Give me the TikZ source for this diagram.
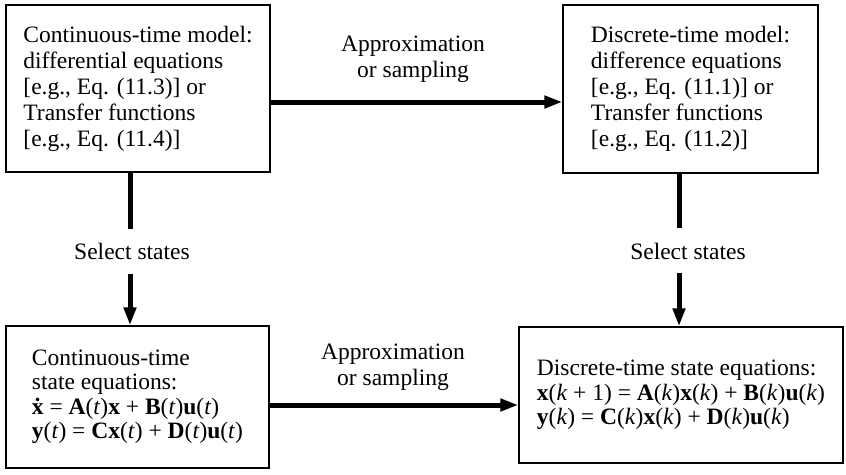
\documentclass[tikz,border=0pt]{standalone}
\usepackage{fontspec}
\setmainfont{Liberation Serif}
\usetikzlibrary{arrows.meta}
\begin{document}
\begin{tikzpicture}[x=1pt,y=-1pt,
  box/.style={draw,line width=1.3pt,align=left,inner sep=0pt,font=\fontsize{23.5}{26}\selectfont},
  lbl/.style={align=center,inner sep=0pt,font=\fontsize{23.5}{26}\selectfont},
  conn/.style={line width=5pt},
  arr/.style={line width=5pt,-{Triangle[length=18pt,width=12pt]}}]
\useasboundingbox (0,0) rectangle (846,474);
\node[box,minimum width=264pt,minimum height=167pt] (b1) at (138,88.5)
  {Continuous-time model:\\differential equations\\{[e.g., Eq. (11.3)] or}\\Transfer functions\\{[e.g., Eq. (11.4)]}};
\node[box,minimum width=255pt,minimum height=168pt] (b2) at (690.5,89)
  {Discrete-time model:\\difference equations\\{[e.g., Eq. (11.1)] or}\\Transfer functions\\{[e.g., Eq. (11.2)]}};
\node[box,minimum width=263pt,minimum height=142pt,font=\fontsize{23.5}{24.5}\selectfont] (b3) at (137.5,397)
  {Continuous-time\\state equations:\\\textbf{ẋ} = \textbf{A}(\textit{t})\textbf{x} + \textbf{B}(\textit{t})\textbf{u}(\textit{t})\\\textbf{y}(\textit{t}) = \textbf{Cx}(\textit{t}) + \textbf{D}(\textit{t})\textbf{u}(\textit{t})};
\node[box,minimum width=324pt,minimum height=136pt,font=\fontsize{23.5}{24.5}\selectfont] (b4) at (681,395)
  {Discrete-time state equations:\\\textbf{x}(\textit{k} + 1) = \textbf{A}(\textit{k})\textbf{x}(\textit{k}) + \textbf{B}(\textit{k})\textbf{u}(\textit{k})\\\textbf{y}(\textit{k}) = \textbf{C}(\textit{k})\textbf{x}(\textit{k}) + \textbf{D}(\textit{k})\textbf{u}(\textit{k})};
% top horizontal
\coordinate (h1) at (0,102);
\node[lbl] (l1) at (413,59) {Approximation\\or sampling};
\draw[arr] (b1.east |- h1) -- (b2.west |- h1);
% bottom horizontal
\coordinate (h2) at (0,405);
\node[lbl] (l2) at (393,367) {Approximation\\or sampling};
\draw[arr] (b3.east |- h2) -- (b4.west |- h2);
% left vertical
\coordinate (v1a) at (130,229);
\coordinate (v1b) at (130,274);
\node[lbl] (s1) at (132,251) {Select states};
\draw[conn] (b1.south -| v1a) -- (v1a);
\draw[arr] (v1b) -- (b3.north -| v1b);
% right vertical
\coordinate (v2a) at (679,228);
\coordinate (v2b) at (679,273);
\node[lbl] (s2) at (688,251) {Select states};
\draw[conn] (b2.south -| v2a) -- (v2a);
\draw[arr] (v2b) -- (b4.north -| v2b);
\end{tikzpicture}
\end{document}
